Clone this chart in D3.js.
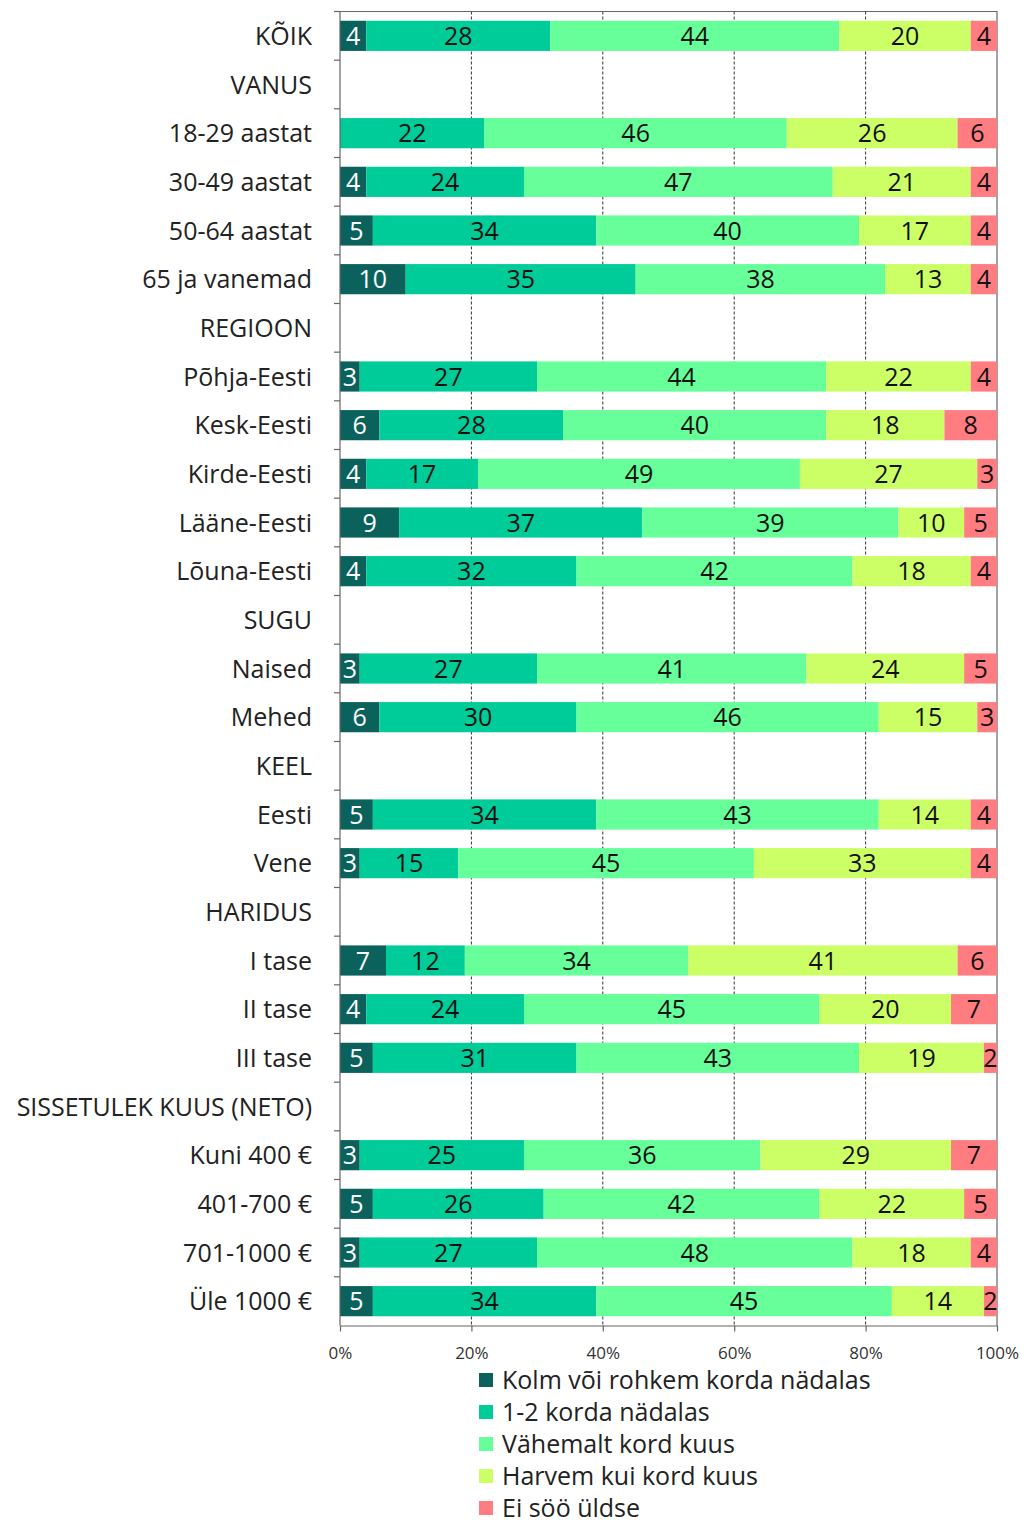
<!DOCTYPE html>
<html>
<head>
<meta charset="utf-8">
<script src="https://cdn.jsdelivr.net/npm/d3@7"></script>
<style>
  body { margin: 0; background: #fff; }
  text { font-family: "Open Sans", "Noto Sans", sans-serif; }
</style>
</head>
<body>
<div id="chart"></div>
<script>
// row labels, top to bottom (headers have no values)
const categories = [
  "KÕIK", "VANUS", "18-29 aastat", "30-49 aastat", "50-64 aastat", "65 ja vanemad",
  "REGIOON", "Põhja-Eesti", "Kesk-Eesti", "Kirde-Eesti", "Lääne-Eesti", "Lõuna-Eesti",
  "SUGU", "Naised", "Mehed", "KEEL", "Eesti", "Vene",
  "HARIDUS", "I tase", "II tase", "III tase",
  "SISSETULEK KUUS (NETO)", "Kuni 400 €", "401-700 €", "701-1000 €", "Üle 1000 €"
];

const seriesNames = [
  "Kolm või rohkem korda nädalas",
  "1-2 korda nädalas",
  "Vähemalt kord kuus",
  "Harvem kui kord kuus",
  "Ei söö üldse"
];

// values per series, same order as categories (null = header row)
const kolmVoiRohkem = [4, null, 0, 4, 5, 10, null, 3, 6, 4, 9, 4, null, 3, 6, null, 5, 3, null, 7, 4, 5, null, 3, 5, 3, 5];
const uksKaksKorda  = [28, null, 22, 24, 34, 35, null, 27, 28, 17, 37, 32, null, 27, 30, null, 34, 15, null, 12, 24, 31, null, 25, 26, 27, 34];
const vahemaltKuus  = [44, null, 46, 47, 40, 38, null, 44, 40, 49, 39, 42, null, 41, 46, null, 43, 45, null, 34, 45, 43, null, 36, 42, 48, 45];
const harvemKuus    = [20, null, 26, 21, 17, 13, null, 22, 18, 27, 10, 18, null, 24, 15, null, 14, 33, null, 41, 20, 19, null, 29, 22, 18, 14];
const eiSooYldse    = [4, null, 6, 4, 4, 4, null, 4, 8, 3, 5, 4, null, 5, 3, null, 4, 4, null, 6, 7, 2, null, 7, 5, 4, 2];

const xTicks = [0, 20, 40, 60, 80, 100];

const colors = ["#0b625d", "#00cc99", "#66ff99", "#ccff66", "#ff7c80"];
const textColors = ["#ffffff", "#111111", "#111111", "#111111", "#111111"];

const config = {
  width: 1024,
  height: 1523,
  margin: { top: 11.5, right: 27, left: 340 },
  plotBottom: 1325.5
};

const rows = categories.map((c, i) => {
  const vals = [kolmVoiRohkem[i], uksKaksKorda[i], vahemaltKuus[i], harvemKuus[i], eiSooYldse[i]];
  const row = { category: c };
  seriesNames.forEach((s, k) => { row[s] = vals[k] == null ? 0 : vals[k]; });
  return row;
});

const stacked = d3.stack().keys(seriesNames)(rows);

const svg = d3.select("#chart").append("svg")
  .attr("width", config.width)
  .attr("height", config.height);

const x = d3.scaleLinear()
  .domain([0, 100])
  .range([config.margin.left, config.width - config.margin.right]);

const y = d3.scaleBand()
  .domain(categories)
  .range([config.margin.top, config.plotBottom])
  .paddingInner(0.38)
  .paddingOuter(0.19);

const band = d3.scaleBand()
  .domain(categories)
  .range([config.margin.top, config.plotBottom]);

// dashed gridlines
svg.append("g")
  .selectAll("line")
  .data(xTicks.slice(1, -1))
  .join("line")
  .attr("x1", d => x(d)).attr("x2", d => x(d))
  .attr("y1", config.margin.top).attr("y2", config.plotBottom)
  .attr("stroke", "#333")
  .attr("stroke-width", 1)
  .attr("stroke-dasharray", "3,2");

// plot frame (top + right)
svg.append("path")
  .attr("d", `M${x(0)},${config.margin.top}H${x(100)}V${config.plotBottom}`)
  .attr("fill", "none")
  .attr("stroke", "#666")
  .attr("stroke-width", 1.2);

// bars
const layers = svg.append("g")
  .selectAll("g")
  .data(stacked)
  .join("g")
  .attr("fill", (d, i) => colors[i]);

layers.selectAll("rect")
  .data(d => d.filter(p => p[1] - p[0] > 0))
  .join("rect")
  .attr("x", d => x(d[0]))
  .attr("y", d => y(d.data.category))
  .attr("width", d => x(d[1]) - x(d[0]))
  .attr("height", y.bandwidth());

// value labels
stacked.forEach((layer, i) => {
  svg.append("g")
    .selectAll("text")
    .data(layer.filter(p => p[1] - p[0] > 0))
    .join("text")
    .attr("x", d => (x(d[0]) + x(d[1])) / 2)
    .attr("y", d => y(d.data.category) + y.bandwidth() / 2)
    .attr("dy", "0.36em")
    .attr("text-anchor", "middle")
    .attr("font-size", 25)
    .attr("fill", textColors[i])
    .text(d => d[1] - d[0]);
});

// left axis
const yAxis = svg.append("g")
  .attr("transform", `translate(${x(0)},0)`);

yAxis.append("line")
  .attr("x1", 0).attr("x2", 0)
  .attr("y1", config.margin.top).attr("y2", config.plotBottom)
  .attr("stroke", "#666").attr("stroke-width", 1.2);

yAxis.selectAll(".tick")
  .data(categories)
  .join("line")
  .attr("x1", -6).attr("x2", 0)
  .attr("y1", d => band(d)).attr("y2", d => band(d))
  .attr("stroke", "#666").attr("stroke-width", 1.2);

yAxis.selectAll("text")
  .data(categories)
  .join("text")
  .attr("x", -28)
  .attr("y", d => band(d) + band.bandwidth() / 2)
  .attr("dy", "0.36em")
  .attr("text-anchor", "end")
  .attr("font-size", 25)
  .attr("fill", "#222")
  .text(d => d);

// bottom axis
const xAxis = svg.append("g")
  .attr("transform", `translate(0,${config.plotBottom})`)
  .call(d3.axisBottom(x).tickValues(xTicks).tickFormat(d => d + "%").tickSize(6).tickSizeOuter(0));

xAxis.select(".domain").attr("stroke", "#666").attr("stroke-width", 1.2);
xAxis.selectAll(".tick line").attr("stroke", "#666").attr("stroke-width", 1.2);
xAxis.selectAll(".tick text")
  .attr("font-family", "Lato, sans-serif")
  .attr("font-size", 17)
  .attr("fill", "#333")
  .attr("y", 21);

// legend
const legend = svg.append("g")
  .attr("transform", "translate(479,1380)");

const legendItems = legend.selectAll("g")
  .data(seriesNames)
  .join("g")
  .attr("transform", (d, i) => `translate(0,${i * 32})`);

legendItems.append("rect")
  .attr("x", 0).attr("y", -7)
  .attr("width", 14).attr("height", 14)
  .attr("fill", (d, i) => colors[i]);

legendItems.append("text")
  .attr("x", 23)
  .attr("dy", "0.36em")
  .attr("font-size", 25)
  .attr("fill", "#222")
  .text(d => d);
</script>
</body>
</html>
